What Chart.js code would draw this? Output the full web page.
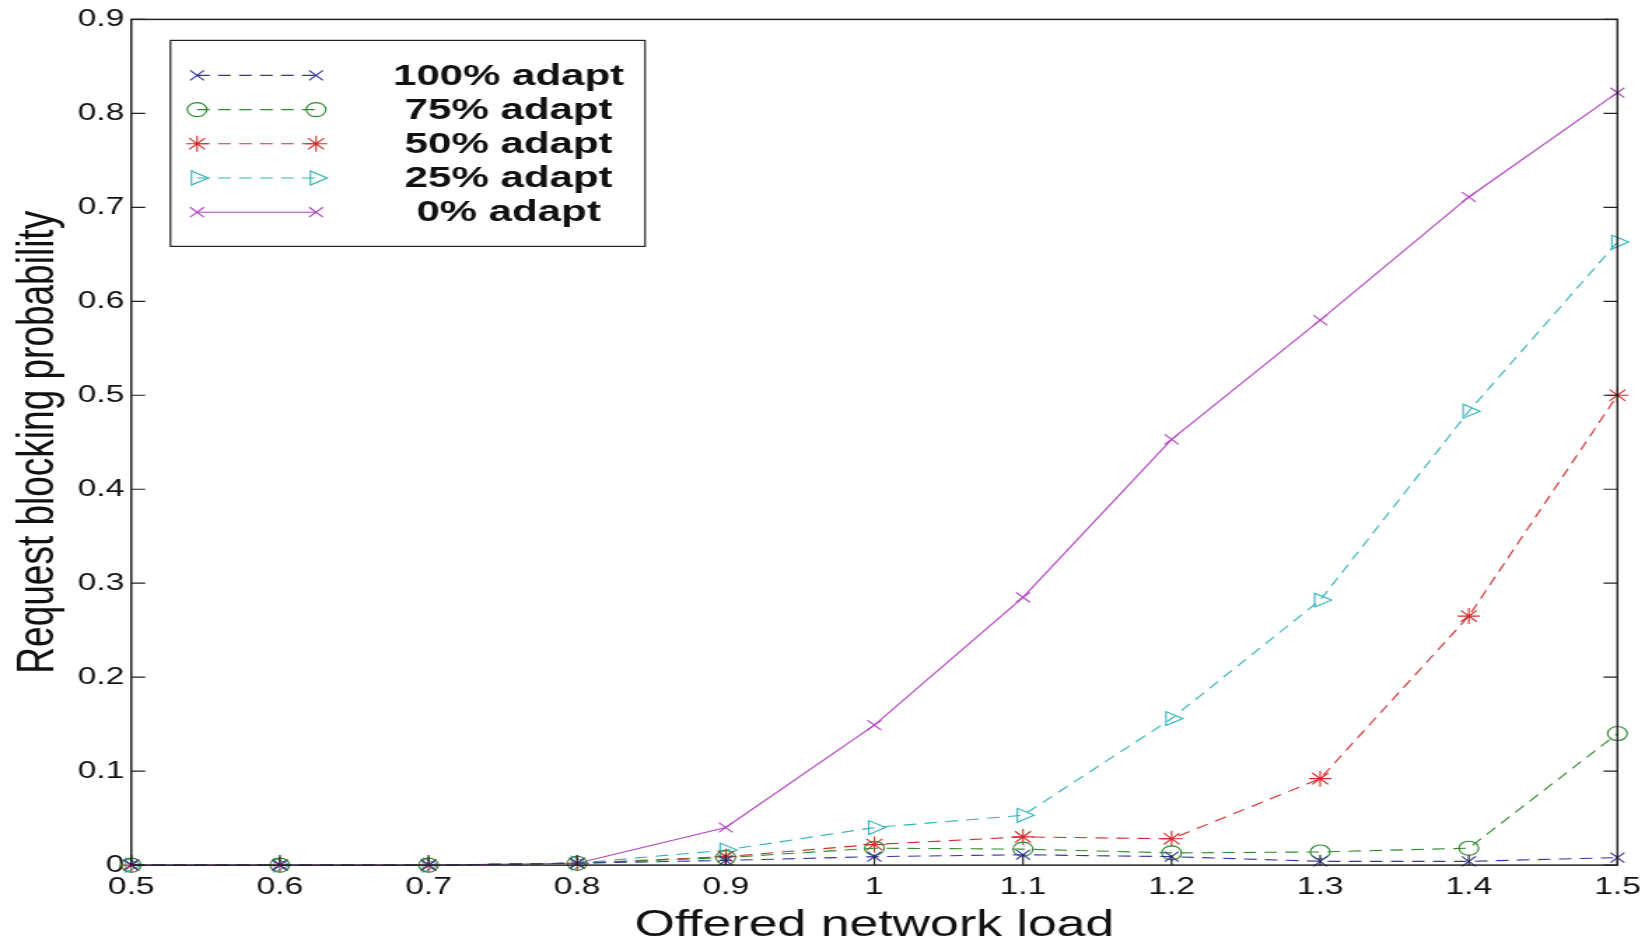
<!DOCTYPE html>
<html><head><meta charset="utf-8">
<script src="https://cdn.jsdelivr.net/npm/chart.js@4.4.0/dist/chart.umd.min.js"></script>
<style>
html,body{margin:0;padding:0;background:#fff;overflow:hidden;}
#wrap{width:1652px;height:942px;position:relative;overflow:hidden;background:#fff;}
#c{position:absolute;left:0;top:0;width:1180px;height:942px;transform:scaleX(1.4);transform-origin:0 0;}
</style></head><body><div id="wrap"><canvas id="c" width="1180" height="942"></canvas></div>
<script>
// ---- data ----
const loads = [0.5, 0.6, 0.7, 0.8, 0.9, 1.0, 1.1, 1.2, 1.3, 1.4, 1.5];
const seriesNames = ['100% adapt', '75% adapt', '50% adapt', '25% adapt', '0% adapt'];
const adapt100 = [0, 0, 0, 0.002, 0.005, 0.009, 0.011, 0.009, 0.004, 0.004, 0.008];
const adapt75  = [0, 0, 0, 0.002, 0.008, 0.018, 0.017, 0.013, 0.014, 0.018, 0.140];
const adapt50  = [0, 0, 0, 0.002, 0.009, 0.022, 0.030, 0.028, 0.092, 0.265, 0.500];
const adapt25  = [0, 0, 0, 0.002, 0.016, 0.040, 0.053, 0.156, 0.282, 0.483, 0.663];
const adapt0   = [0, 0, 0, 0.002, 0.040, 0.149, 0.285, 0.453, 0.580, 0.711, 0.822];
const xTitle = 'Offered network load';
const yTitle = 'Request blocking probability';

const FONT = "'Liberation Sans', Arial, Helvetica, sans-serif";
const fmt = v => String(+Number(v).toFixed(1));

const styles = [
  {color: '#34349e', dash: [9, 6], pointStyle: 'crossRot', rotation: 0, radius: 7},
  {color: '#2e8a2e', dash: [9, 6], pointStyle: 'circle', rotation: 0, radius: 7},
  {color: '#d42b2b', dash: [9, 6], pointStyle: 'star', rotation: 0, radius: 8},
  {color: '#2fb4b8', dash: [9, 6], pointStyle: 'triangle', rotation: 90, radius: 8},
  {color: '#b245c2', dash: [], pointStyle: 'crossRot', rotation: 0, radius: 7}
];
const seriesValues = [adapt100, adapt75, adapt50, adapt25, adapt0];

const datasets = seriesValues.map((vals, k) => ({
  label: seriesNames[k],
  data: loads.map((x, i) => ({x: x, y: vals[i]})),
  borderColor: styles[k].color,
  backgroundColor: 'rgba(0,0,0,0)',
  borderWidth: 1.1,
  borderDash: styles[k].dash,
  pointStyle: styles[k].pointStyle,
  pointRotation: styles[k].rotation,
  pointRadius: styles[k].radius,
  pointHoverRadius: styles[k].radius,
  pointBorderWidth: 1.1,
  pointBorderColor: styles[k].color,
  pointBackgroundColor: 'rgba(0,0,0,0)',
  tension: 0,
  fill: false,
  clip: false
}));

const framePlugin = {
  id: 'frame',
  afterDatasetsDraw(chart) {
    const {ctx, chartArea: a, scales} = chart;
    ctx.save();
    ctx.strokeStyle = '#222';
    ctx.lineWidth = 1.5;
    ctx.setLineDash([]);
    ctx.strokeRect(a.left, a.top, a.right - a.left, a.bottom - a.top);
    ctx.lineWidth = 1.2;
    ctx.beginPath();
    scales.y.ticks.forEach(t => {
      const y = scales.y.getPixelForValue(t.value);
      ctx.moveTo(a.left, y); ctx.lineTo(a.left + 10, y);
      ctx.moveTo(a.right, y); ctx.lineTo(a.right - 10, y);
    });
    scales.x.ticks.forEach(t => {
      const x = scales.x.getPixelForValue(t.value);
      ctx.moveTo(x, a.bottom); ctx.lineTo(x, a.bottom - 10);
    });
    ctx.stroke();
    ctx.restore();
  }
};

const legendPlugin = {
  id: 'boxLegend',
  afterDraw(chart) {
    const {ctx, chartArea: a} = chart;
    const bx = a.left + 28, by = a.top + 21, bw = 339, bh = 206;
    ctx.save();
    ctx.fillStyle = '#fff';
    ctx.fillRect(bx, by, bw, bh);
    ctx.strokeStyle = '#222';
    ctx.lineWidth = 1.2;
    ctx.setLineDash([]);
    ctx.strokeRect(bx, by, bw, bh);
    chart.data.datasets.forEach((ds, i) => {
      const y = by + 35 + i * 34.2;
      const x1 = bx + 19, x2 = bx + 104;
      ctx.strokeStyle = ds.borderColor;
      ctx.lineWidth = ds.borderWidth;
      ctx.setLineDash(ds.borderDash);
      ctx.beginPath(); ctx.moveTo(x1, y); ctx.lineTo(x2, y); ctx.stroke();
      ctx.setLineDash([]);
      ctx.fillStyle = 'rgba(0,0,0,0)';
      ctx.lineWidth = 1.1;
      const po = {pointStyle: ds.pointStyle, rotation: ds.pointRotation, radius: ds.pointRadius, borderWidth: 1.1};
      Chart.helpers.drawPoint(ctx, po, x1, y);
      Chart.helpers.drawPoint(ctx, po, x2, y);
      ctx.fillStyle = '#111';
      ctx.font = 'bold 30px ' + FONT;
      ctx.textAlign = 'center';
      ctx.textBaseline = 'middle';
      ctx.fillText(ds.label, bx + 241.5, y + 1);
    });
    ctx.restore();
  }
};

new Chart(document.getElementById('c'), {
  type: 'line',
  data: {datasets: datasets},
  plugins: [framePlugin, legendPlugin],
  options: {
    responsive: false,
    animation: false,
    devicePixelRatio: 1,
    layout: {padding: {top: 19, left: 6, right: 23, bottom: 0}},
    plugins: {legend: {display: false}, tooltip: {enabled: false}},
    scales: {
      x: {
        type: 'linear', min: 0.5, max: 1.5,
        grid: {display: false, drawTicks: false},
        border: {display: false},
        ticks: {stepSize: 0.1, padding: 8, color: '#111', autoSkip: false, maxRotation: 0,
                font: {family: FONT, size: 24, lineHeight: 1.15}, callback: v => fmt(v)},
        title: {display: true, text: xTitle, color: '#111',
                font: {family: FONT, size: 37, lineHeight: 0.9}, padding: {top: 0, bottom: 0}}
      },
      y: {
        type: 'linear', min: 0, max: 0.9,
        grid: {display: false, drawTicks: false},
        border: {display: false},
        ticks: {stepSize: 0.1, padding: 5, color: '#111', autoSkip: false,
                font: {family: FONT, size: 24}, callback: v => fmt(v)},
        title: {display: true, text: yTitle, color: '#111',
                font: {family: FONT, size: 37, lineHeight: 1.2}, padding: {top: 0, bottom: 0}}
      }
    }
  }
});
</script>
</body></html>
